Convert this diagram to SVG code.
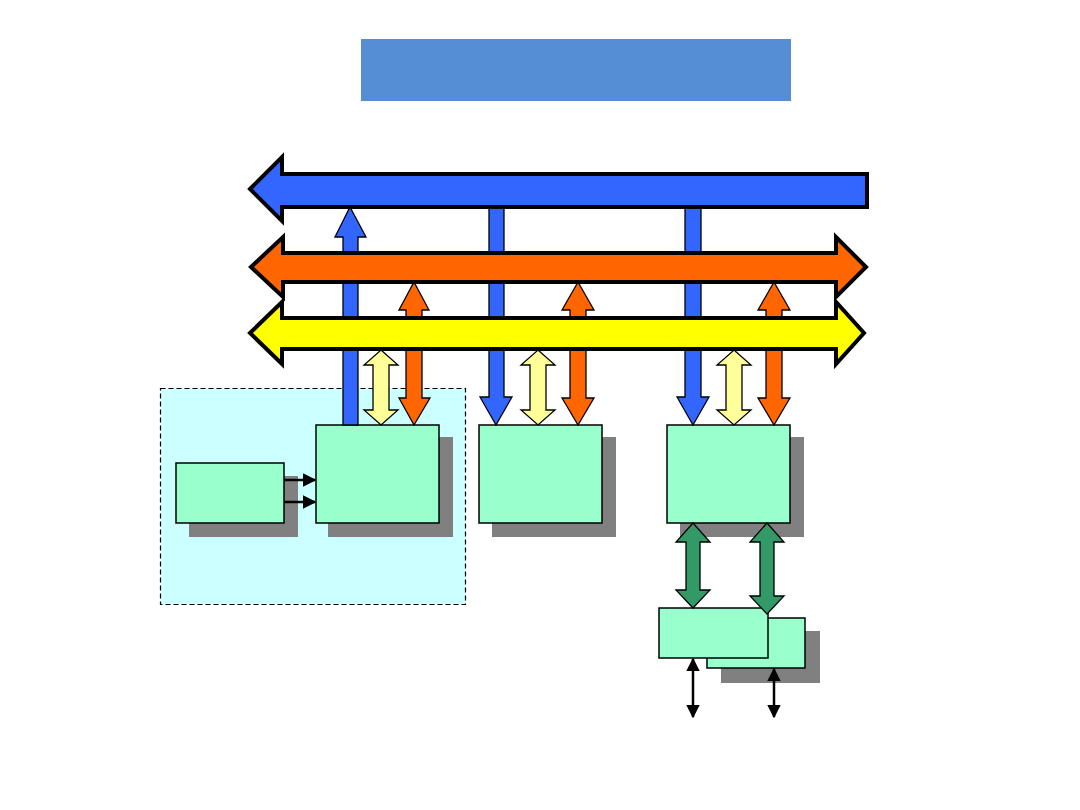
<svg xmlns="http://www.w3.org/2000/svg" width="1080" height="810" viewBox="0 0 1080 810">
<defs>
<style>
.box{fill:#99FFCC;stroke:#000;stroke-width:1.5}
.shadow{fill:#808080}
.bus{stroke:#000;stroke-width:4;stroke-linejoin:miter}
.va{stroke:#000;stroke-width:1.3;stroke-linejoin:miter}
.blue{fill:#3366FF}
.orange{fill:#FF6600}
.yellow{fill:#FFFF00}
.lyellow{fill:#FFFF99}
.green{fill:#339966}
.blk{stroke:#000;stroke-width:2.5;fill:none}
</style>
<marker id="ah" viewBox="0 0 10 10" refX="9" refY="5" markerWidth="5.5" markerHeight="5.5" orient="auto-start-reverse" markerUnits="strokeWidth">
<path d="M0,0 L10,5 L0,10 z" fill="#000"/>
</marker>
</defs>
<rect width="1080" height="810" fill="#fff"/>
<g id="title"><rect x="361" y="39" width="430" height="62" fill="#558ED5"/></g>
<g id="region"><rect x="160.5" y="388.5" width="305" height="216" fill="#CCFFFF" stroke="#000" stroke-width="1.2" stroke-dasharray="5,3"/></g>
<g id="nodeD"><rect class="shadow" x="189" y="476" width="109" height="61"/><rect class="box" x="176" y="463" width="108" height="60"/></g>
<g id="nodeA"><rect class="shadow" x="328" y="437" width="125" height="100"/><rect class="box" x="316" y="425" width="123" height="98"/></g>
<g id="nodeB"><rect class="shadow" x="492" y="437" width="124" height="100"/><rect class="box" x="479" y="425" width="123" height="98"/></g>
<g id="nodeC"><rect class="shadow" x="680" y="437" width="124" height="100"/><rect class="box" x="667" y="425" width="123" height="98"/></g>
<g id="nodeE"><rect class="shadow" x="721" y="631" width="99" height="52"/><rect class="box" x="707" y="618" width="98" height="50"/></g>
<g id="nodeF"><rect class="box" x="659" y="608" width="109" height="50"/></g>
<g id="connectors">
<polygon class="va blue" points="350,207 366,237 358,237 358,425 343,425 343,237 335,237"/>
<polygon class="va blue" points="489,205 504,205 504,397 512,397 496,425 480,397 489,397"/>
<polygon class="va blue" points="685,205 701,205 701,397 709,397 693,425 677,397 685,397"/>
<polygon class="va orange" points="414,282 429,310 422,310 422,398 430,398 414,425 399,398 406,398 406,310 399,310"/>
<polygon class="va orange" points="578,282 594,310 586,310 586,398 594,398 578,425 562,398 570,398 570,310 562,310"/>
<polygon class="va orange" points="774,282 790,310 782,310 782,398 790,398 774,425 758,398 766,398 766,310 758,310"/>
<polygon class="va lyellow" points="381,350 398,365 389,365 389,410 398,410 381,425 364,410 373,410 373,365 364,365"/>
<polygon class="va lyellow" points="538,350 555,365 546,365 546,410 555,410 538,425 521,410 530,410 530,365 521,365"/>
<polygon class="va lyellow" points="734,350 751,365 742,365 742,410 751,410 734,425 717,410 726,410 726,365 717,365"/>
<polygon class="va green" points="693,523 710,542 700,542 700,590 710,590 693,608 676,590 686,590 686,542 676,542"/>
<polygon class="va green" points="767,523 784,542 774,542 774,596 784,596 767,614 750,596 760,596 760,542 750,542"/>
<line class="blk" x1="284" y1="480" x2="315" y2="480" marker-end="url(#ah)"/>
<line class="blk" x1="284" y1="502" x2="315" y2="502" marker-end="url(#ah)"/>
<line class="blk" x1="693" y1="659" x2="693" y2="717" marker-start="url(#ah)" marker-end="url(#ah)"/>
<line class="blk" x1="774" y1="669" x2="774" y2="717" marker-start="url(#ah)" marker-end="url(#ah)"/>
</g>
<g id="buses">
<polygon id="busBlue" class="bus blue" points="250,189 282,157 282,174 867,174 867,207 282,207 282,221"/>
<polygon id="busOrange" class="bus orange" points="251,267 283,237 283,253 836,253 836,237 866,267 836,297 836,282 283,282 283,297"/>
<polygon id="busYellow" class="bus yellow" points="250,333 282,302 282,318 836,318 836,302 864,333 836,364 836,349 282,349 282,364"/>
</g>
</svg>
